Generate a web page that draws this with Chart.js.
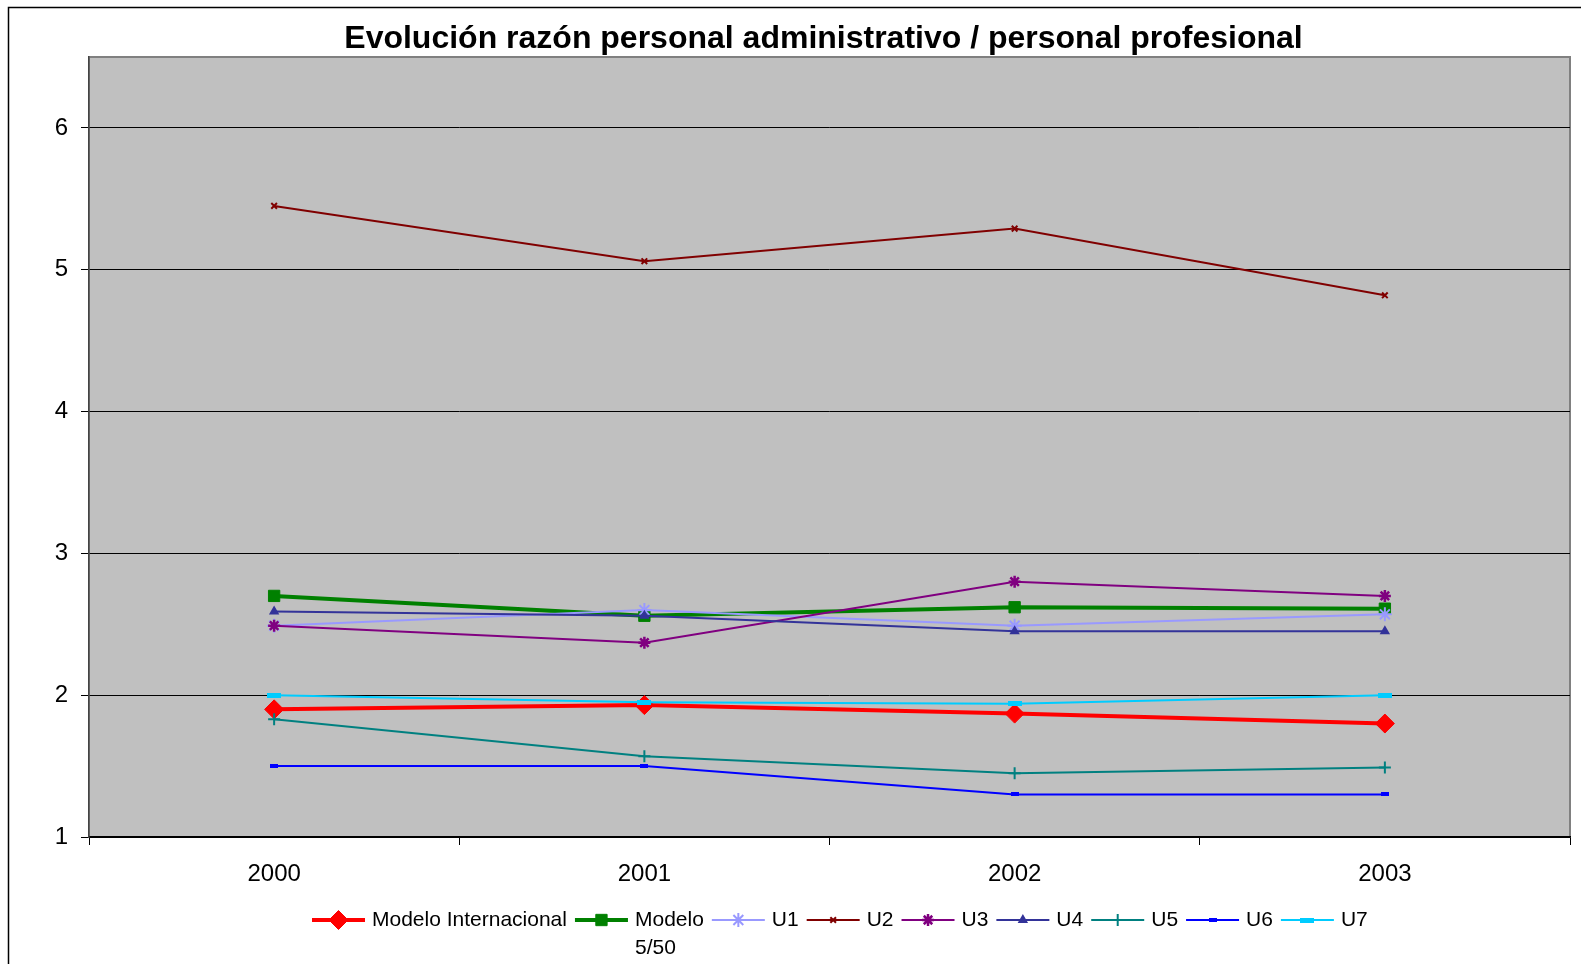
<!DOCTYPE html>
<html>
<head>
<meta charset="utf-8">
<script src="https://cdn.jsdelivr.net/npm/chart.js@4.4.0/dist/chart.umd.min.js"></script>
<style>
  html, body { margin: 0; padding: 0; background: #fff; }
  #wrap { width: 1581px; height: 964px; }
</style>
</head>
<body>
<div id="wrap"><canvas id="graphCanvas" width="1581" height="964"></canvas></div>
<script>
// datos
var anios = ['2000', '2001', '2002', '2003'];
var modeloInternacional = [1.90, 1.93, 1.87, 1.80];
var modelo550 = [2.70, 2.56, 2.62, 2.61];
var u1 = [2.49, 2.60, 2.49, 2.57];
var u2 = [5.45, 5.06, 5.29, 4.82];
var u3 = [2.49, 2.37, 2.80, 2.70];
var u4 = [2.59, 2.56, 2.45, 2.45];
var u5 = [1.83, 1.57, 1.45, 1.49];
var u6 = [1.50, 1.50, 1.30, 1.30];
var u7 = [2.00, 1.95, 1.94, 2.00];
var ticksY = [1, 2, 3, 4, 5, 6];

var titulo = 'Evolución razón personal administrativo / personal profesional';

function marcaRect(w, h, color) {
    var c = document.createElement('canvas');
    c.width = w;
    c.height = h;
    var cx = c.getContext('2d');
    cx.fillStyle = color;
    cx.fillRect(0, 0, w, h);
    return c;
}

function serie(label, valores, color, ancho, estilo, radio, extra) {
    var ds = {
        label: label,
        data: valores,
        borderColor: color,
        backgroundColor: color,
        borderWidth: ancho,
        pointStyle: estilo,
        pointRadius: radio,
        pointHoverRadius: radio,
        pointBorderColor: color,
        pointBackgroundColor: color,
        pointBorderWidth: 2,
        tension: 0,
        fill: false
    };
    for (var k in extra) { ds[k] = extra[k]; }
    return ds;
}

var datasets = [
    serie('Modelo Internacional', modeloInternacional, '#FF0000', 4, 'rectRot', 9.5, {pointBorderWidth: 1}),
    serie('Modelo 5/50', modelo550, '#008000', 4, 'rect', 8, {pointBorderWidth: 1}),
    serie('U1', u1, '#9999FF', 2, 'star', 7, {}),
    serie('U2', u2, '#800000', 2, 'crossRot', 4, {}),
    serie('U3', u3, '#800080', 2, 'star', 6, {pointBorderWidth: 2.5}),
    serie('U4', u4, '#333399', 2, 'triangle', 4, {}),
    serie('U5', u5, '#008080', 2, 'cross', 6, {}),
    serie('U6', u6, '#0000FF', 2, marcaRect(8, 4, '#0000FF'), 4, {}),
    serie('U7', u7, '#00CCFF', 2, marcaRect(14, 5, '#00CCFF'), 5, {})
];
// las series posteriores van encima
for (var i = 0; i < datasets.length; i++) {
    datasets[i].order = datasets.length - i;
}

var fondoPlugin = {
    id: 'fondo',
    beforeDraw: function (chart) {
        var ctx = chart.ctx;
        var a = chart.chartArea;
        ctx.save();
        ctx.fillStyle = '#fff';
        ctx.fillRect(0, 0, chart.width, chart.height);
        // marco exterior
        ctx.strokeStyle = '#000';
        ctx.lineWidth = 1.5;
        ctx.beginPath();
        ctx.moveTo(8.5, chart.height + 5);
        ctx.lineTo(8.5, 7.5);
        ctx.lineTo(chart.width + 5, 7.5);
        ctx.stroke();
        ctx.fillStyle = '#C0C0C0';
        ctx.fillRect(a.left, a.top, a.right - a.left, a.bottom - a.top);
        ctx.strokeStyle = '#808080';
        ctx.lineWidth = 2;
        ctx.strokeRect(a.left, a.top, a.right - a.left, a.bottom - a.top);
        // titulo
        ctx.fillStyle = '#000';
        ctx.font = 'bold 32px "Liberation Sans", Arial, sans-serif';
        ctx.textAlign = 'center';
        ctx.textBaseline = 'middle';
        ctx.fillText(titulo, (a.left + a.right) / 2 - 6, 39);
        ctx.restore();
    }
};

var leyendaPlugin = {
    id: 'leyenda',
    afterDraw: function (chart) {
        var ctx = chart.ctx;
        ctx.save();
        ctx.font = '21px "Liberation Sans", Arial, sans-serif';
        ctx.textBaseline = 'middle';
        ctx.textAlign = 'left';
        var x = 312;
        var y = 920;
        chart.data.datasets.forEach(function (ds) {
            var lineas = ds.label == 'Modelo 5/50' ? ['Modelo', '5/50'] : [ds.label];
            ctx.strokeStyle = ds.borderColor;
            ctx.lineWidth = ds.borderWidth;
            ctx.beginPath();
            ctx.moveTo(x, y);
            ctx.lineTo(x + 53, y);
            ctx.stroke();
            if (Chart.helpers && Chart.helpers.drawPoint) {
                ctx.fillStyle = ds.pointBackgroundColor;
                ctx.strokeStyle = ds.pointBorderColor;
                ctx.lineWidth = ds.pointBorderWidth;
                Chart.helpers.drawPoint(ctx, {
                    pointStyle: ds.pointStyle,
                    radius: ds.pointRadius,
                    rotation: 0,
                    borderWidth: ds.pointBorderWidth
                }, x + 26.5, y);
            }
            ctx.fillStyle = '#000';
            var tx = x + 60;
            var ancho = 0;
            for (var j = 0; j < lineas.length; j++) {
                ctx.fillText(lineas[j], tx, y + j * 28);
                if (j == 0) { ancho = ctx.measureText(lineas[j]).width; }
            }
            x = tx + ancho + 8;
        });
        ctx.restore();
    }
};

var graphTarget = document.getElementById('graphCanvas');

window.grafica = new Chart(graphTarget, {
    type: 'line',
    data: {
        labels: anios,
        datasets: datasets
    },
    options: {
        responsive: false,
        animation: false,
        layout: {
            padding: {top: 57, right: 11, left: 0, bottom: 0}
        },
        plugins: {
            legend: {display: false},
            title: {display: false},
            tooltip: {enabled: false}
        },
        scales: {
            x: {
                type: 'category',
                offset: true,
                grid: {
                    offset: true,
                    drawOnChartArea: false,
                    drawTicks: true,
                    tickLength: 8,
                    tickColor: '#000',
                    lineWidth: 1
                },
                border: {display: true, color: '#000', width: 1.5},
                ticks: {
                    color: '#000',
                    padding: 15,
                    font: {family: '"Liberation Sans", Arial, sans-serif', size: 24}
                },
                afterFit: function (scale) { scale.height = 127; }
            },
            y: {
                min: 1,
                max: 6.5,
                afterBuildTicks: function (axis) {
                    axis.ticks = ticksY.map(function (v) { return {value: v}; });
                },
                grid: {
                    color: '#000',
                    lineWidth: 1,
                    drawTicks: true,
                    tickLength: 8,
                    tickColor: '#000'
                },
                border: {display: true, color: '#444', width: 1.5},
                ticks: {
                    color: '#000',
                    padding: 13,
                    font: {family: '"Liberation Sans", Arial, sans-serif', size: 24}
                },
                afterFit: function (scale) { scale.width = 89; }
            }
        }
    },
    plugins: [fondoPlugin, leyendaPlugin]
});
</script>
</body>
</html>
